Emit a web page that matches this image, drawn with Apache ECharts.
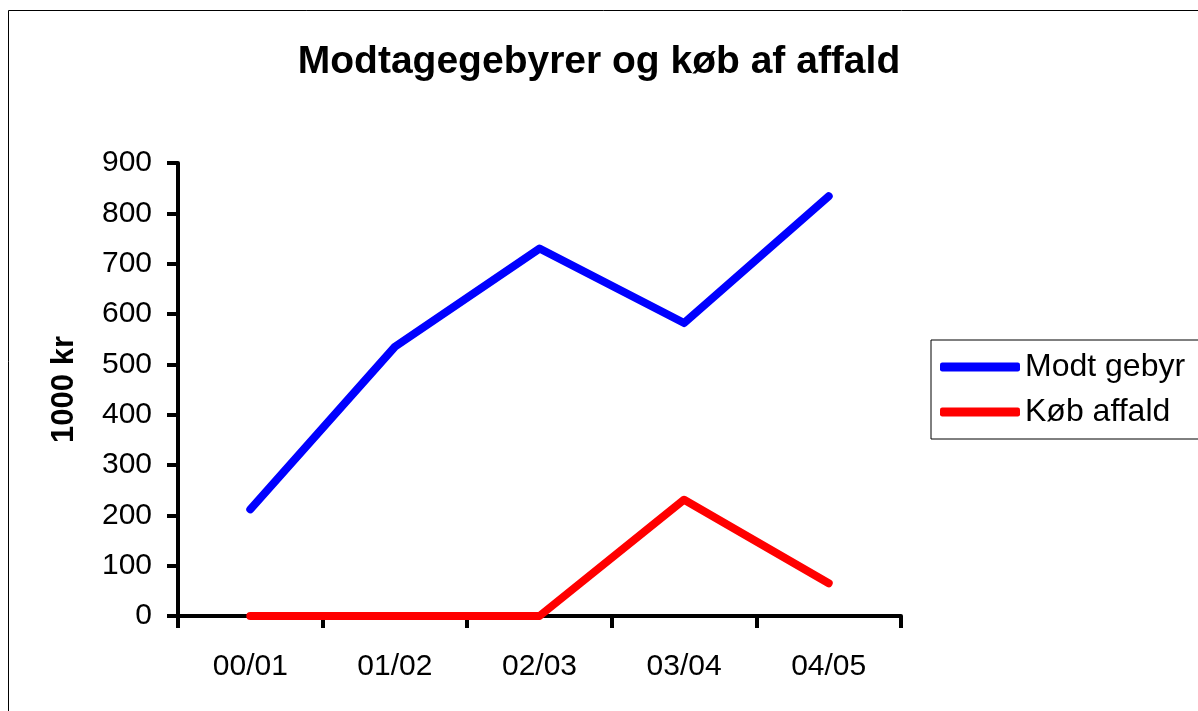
<!DOCTYPE html>
<html>
<head>
<meta charset="utf-8">
<script src="https://cdn.jsdelivr.net/npm/echarts@6/dist/echarts.min.js"></script>
<style>
html,body{margin:0;padding:0;background:#fff;}
#c{width:1198px;height:711px;}
</style>
</head>
<body>
<div id="c"></div>
<script>
const categories = ['00/01', '01/02', '02/03', '03/04', '04/05'];
const modtGebyr = [212, 535, 730, 582, 834];
const kobAffald = [0, 0, 0, 231, 65];
const yTicks = { min: 0, max: 900, interval: 100 };

const chart = echarts.init(document.getElementById('c'), null, { renderer: 'canvas' });
const font = 'Liberation Sans, Arial, sans-serif';
chart.setOption({
  backgroundColor: '#fff',
  animation: false,
  textStyle: { fontFamily: font },
  graphic: [{
    type: 'rect', left: 8, top: 10, z: -1,
    shape: { x: 0, y: 0, width: 1200, height: 710 },
    style: { fill: '#fff', stroke: '#000', lineWidth: 1 }
  }],
  title: {
    text: 'Modtagegebyrer og køb af affald',
    left: 'center', top: 38,
    textStyle: { fontFamily: font, fontSize: 39, fontWeight: 'bold', color: '#000' }
  },
  legend: {
    orient: 'vertical',
    left: 931, top: 340,
    padding: [10, 60, 10, 9],
    itemGap: 11,
    itemWidth: 80, itemHeight: 9,
    itemTextGap: 4,
    icon: 'roundRect',
    borderColor: '#000', borderWidth: 1,
    textStyle: { fontFamily: font, fontSize: 32, color: '#000', lineHeight: 34 },
    data: ['Modt gebyr', 'Køb affald']
  },
  grid: { left: 178, right: 297, top: 163, bottom: 95, containLabel: false },
  xAxis: {
    type: 'category',
    data: categories,
    boundaryGap: true,
    axisLine: { lineStyle: { color: '#000', width: 4 } },
    axisTick: { show: true, length: 12, lineStyle: { width: 4, color: '#000' } },
    axisLabel: { fontFamily: font, fontSize: 30, color: '#000', margin: 36 },
    splitLine: { show: false }
  },
  yAxis: {
    type: 'value',
    min: yTicks.min, max: yTicks.max, interval: yTicks.interval,
    name: '1000 kr',
    nameLocation: 'middle',
    nameGap: 98,
    nameTextStyle: { fontFamily: font, fontSize: 31, fontWeight: 'bold', color: '#000' },
    axisLine: { show: true, lineStyle: { color: '#000', width: 4 } },
    axisTick: { show: true, length: 11, lineStyle: { width: 4, color: '#000' } },
    axisLabel: { fontFamily: font, fontSize: 30, color: '#000', margin: 26 },
    splitLine: { show: false }
  },
  series: [
    {
      name: 'Modt gebyr', type: 'line', data: modtGebyr,
      symbol: 'none', color: '#0000ff',
      lineStyle: { color: '#0000ff', width: 8, cap: 'round', join: 'round' }
    },
    {
      name: 'Køb affald', type: 'line', data: kobAffald,
      symbol: 'none', color: '#ff0000',
      lineStyle: { color: '#ff0000', width: 8, cap: 'round', join: 'round' }
    }
  ]
});
</script>
</body>
</html>
